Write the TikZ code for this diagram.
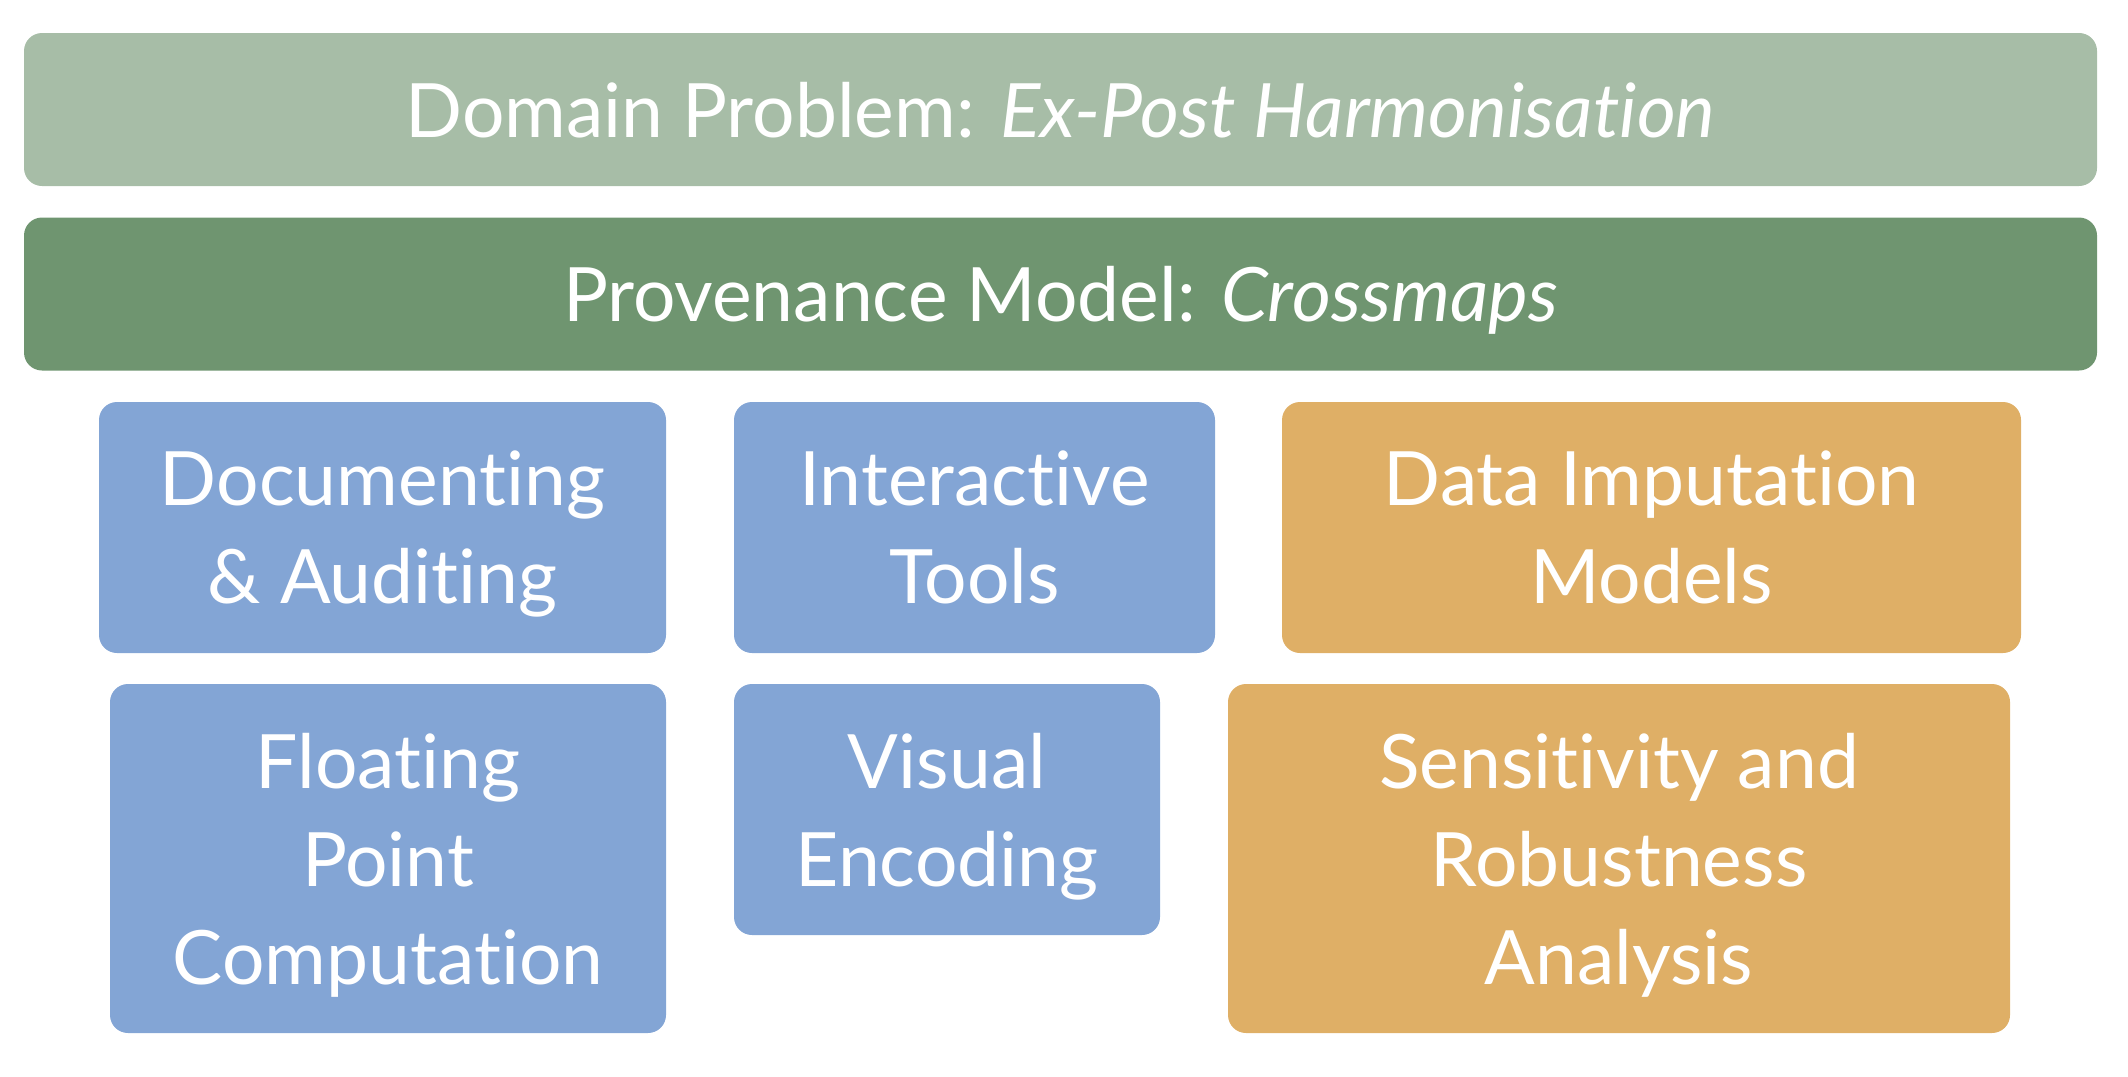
\documentclass[tikz,border=0pt]{standalone}
\usepackage{fontspec}
\setmainfont[Ligatures=NoCommon]{Lato}
\usetikzlibrary{positioning}
\definecolor{sagelight}{HTML}{A7BDA7}
\definecolor{sagedark}{HTML}{6F9570}
\definecolor{tileblue}{HTML}{83A5D5}
\definecolor{tileochre}{HTML}{DFAF66}
\begin{document}
\begin{tikzpicture}[x=0.5pt,y=-0.5pt,
    tile/.style={rounded corners=9pt,inner sep=0pt,text=white,align=center,
                text depth=0pt,font=\fontsize{37.5}{49}\selectfont},
    band/.style={tile,minimum width=1036.5pt,minimum height=76.5pt}]
    \useasboundingbox (0,0) rectangle (2128,1076);
    % two full-width layers
    \node[band,fill=sagelight] (domain) at (1060.5,109.5) {Domain Problem: \textit{Ex-Post Harmonisation}};
    \node[band,fill=sagedark] (prov) at (1060.5,294) {Provenance Model: \textit{Crossmaps}};
    % first row of tiles
    \node[tile,fill=tileblue,minimum width=283.5pt,minimum height=125.5pt] (doc) at (382.5,527.5) {Documenting\\\& Auditing};
    \node[tile,fill=tileblue,minimum width=240.5pt,minimum height=125.5pt] (inter) at (974.5,527.5) {Interactive\\Tools};
    \node[tile,fill=tileochre,minimum width=369.5pt,minimum height=125.5pt] (impute) at (1651.5,527.5) {Data Imputation\\Models};
    % second row of tiles
    \node[tile,fill=tileblue,minimum width=278pt,minimum height=174.5pt] (float) at (388,858.5) {Floating\\Point\\Computation};
    \node[tile,fill=tileblue,minimum width=213pt,minimum height=125.5pt] (visual) at (947,809.5) {Visual\\Encoding};
    \node[tile,fill=tileochre,minimum width=391pt,minimum height=174.5pt] (sens) at (1619,858.5) {Sensitivity and\\Robustness\\Analysis};
\end{tikzpicture}
\end{document}
